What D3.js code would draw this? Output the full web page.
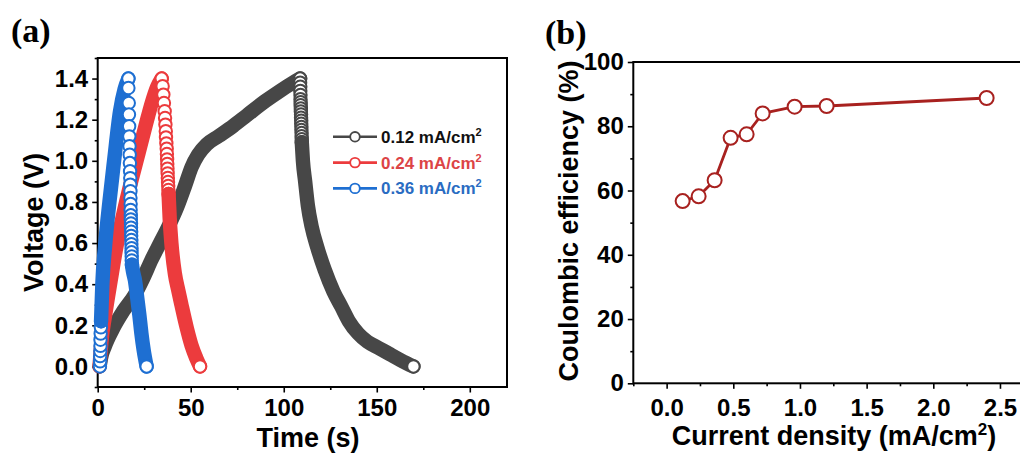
<!DOCTYPE html>
<html>
<head>
<meta charset="utf-8">
<script src="https://cdn.jsdelivr.net/npm/d3@7"></script>
<style>
  body { margin: 0; background: #fff; }
  svg { display: block; }
</style>
</head>
<body>
<svg width="1020" height="454"></svg>
<script>
// ---- (a) charge / discharge curves (t in s, V in volts)
const gcdLabels = ["0.12 mA/cm", "0.24 mA/cm", "0.36 mA/cm"];
const gcdColors = ["#474747", "#ec3b3d", "#1e6fd2"];
const gcdTextColors = ["#111111", "#dc4446", "#2a6cc2"];

// 0.12 mA/cm2
const blackChargeT = [1, 2, 3.9, 8, 13.8, 20, 24.5, 29, 33.5, 38, 42.5, 47, 50.5, 54, 58.6, 65, 72.9, 80, 90, 98, 105, 108.8];
const blackChargeV = [0, 0.05, 0.1, 0.18, 0.27, 0.35, 0.43, 0.52, 0.6, 0.68, 0.77, 0.88, 0.97, 1.03, 1.08, 1.12, 1.17, 1.22, 1.29, 1.34, 1.38, 1.4];
const blackDropT = [108.8, 108.8, 108.9, 108.9, 109, 109, 109.1, 109.1, 109.2, 109.2, 109.3, 109.3, 109.4, 109.4, 109.5, 109.5, 109.6, 109.6, 109.7, 109.7];
const blackDropV = [1.4, 1.38, 1.36, 1.34, 1.32, 1.3, 1.285, 1.27, 1.255, 1.24, 1.225, 1.21, 1.195, 1.18, 1.165, 1.15, 1.135, 1.12, 1.105, 1.09];
const blackDischargeT = [109.7, 110.3, 111.5, 113, 115, 118, 122, 126.7, 131, 135, 140, 145, 151, 157, 163, 169.7];
const blackDischargeV = [1.09, 1.0, 0.9, 0.78, 0.68, 0.58, 0.47, 0.365, 0.29, 0.22, 0.16, 0.12, 0.09, 0.06, 0.03, 0];

// 0.24 mA/cm2
const redChargeT = [1, 2, 4, 7, 10, 14, 18, 22, 26, 29, 32, 34.4];
const redChargeV = [0, 0.12, 0.25, 0.42, 0.58, 0.75, 0.9, 1.04, 1.18, 1.28, 1.36, 1.4];
const redDropT = [34.4, 34.9, 35.3, 35.6, 36.0, 36.2, 36.4, 36.6, 36.7, 36.9, 37.1, 37.2, 37.3, 37.4, 37.5, 37.6, 37.7, 37.8, 37.9, 38.0, 38.1];
const redDropV = [1.4, 1.363, 1.322, 1.281, 1.241, 1.208, 1.176, 1.144, 1.114, 1.085, 1.059, 1.033, 1.007, 0.985, 0.962, 0.939, 0.917, 0.897, 0.878, 0.858, 0.839];
const redDischargeT = [38.1, 38.7, 39.6, 41.5, 43.3, 45, 47.8, 50.5, 53, 55];
const redDischargeV = [0.839, 0.72, 0.6, 0.45, 0.37, 0.3, 0.19, 0.1, 0.04, 0];

// 0.36 mA/cm2
const blueStartT = [1.2, 1.3, 1.3, 1.4, 1.5, 1.5, 1.6, 1.7, 1.8];
const blueStartV = [0, 0.025, 0.05, 0.075, 0.1, 0.13, 0.16, 0.19, 0.22];
const blueChargeT = [1.8, 2.5, 4, 6.3, 8.8, 12, 14.5, 16.5];
const blueChargeV = [0.22, 0.4, 0.59, 0.8, 1.0, 1.24, 1.35, 1.4];
const blueDropT = [16.5, 16.5, 16.7, 16.8, 16.9, 17.0, 17.1, 17.2, 17.3, 17.4, 17.5, 17.5, 17.6, 17.6, 17.7, 17.7, 17.8, 17.8, 17.9, 17.9, 18.0, 18.0, 18.1, 18.1, 18.2, 18.2, 18.3, 18.3, 18.4];
const blueDropV = [1.4, 1.354, 1.281, 1.225, 1.168, 1.119, 1.071, 1.03, 0.989, 0.949, 0.916, 0.884, 0.852, 0.819, 0.79, 0.761, 0.735, 0.715, 0.695, 0.675, 0.655, 0.635, 0.615, 0.595, 0.575, 0.555, 0.535, 0.515, 0.495];
const blueDischargeT = [18.4, 19, 20, 21.3, 22.4, 23.5, 24.7, 26.3];
const blueDischargeV = [0.495, 0.46, 0.42, 0.33, 0.25, 0.16, 0.08, 0];

const timeTicks = [0, 50, 100, 150, 200];
const timeMinor = [25, 75, 125, 175];
const voltTicks = [0, 0.2, 0.4, 0.6, 0.8, 1.0, 1.2, 1.4];
const voltMinor = [-0.1, 0.1, 0.3, 0.5, 0.7, 0.9, 1.1, 1.3, 1.5];

// ---- (b) coulombic efficiency
const currentDensity = [0.12, 0.24, 0.36, 0.48, 0.6, 0.72, 0.96, 1.2, 2.4];
const efficiency = [56.7, 58.2, 63.2, 76.4, 77.5, 84.0, 86.1, 86.3, 88.8];
const cdTicks = [0, 0.5, 1.0, 1.5, 2.0, 2.5];
const cdMinor = [-0.25, 0.25, 0.75, 1.25, 1.75, 2.25];
const ceTicks = [0, 20, 40, 60, 80, 100];
const ceMinor = [10, 30, 50, 70, 90];

const font = "'Liberation Sans', Arial, Helvetica, sans-serif";
const svg = d3.select("svg");

const zip = (ts, vs) => ts.map((t, i) => [t, vs[i]]);

const series = [
    { start: [], charge: zip(blackChargeT, blackChargeV), drop: zip(blackDropT, blackDropV), discharge: zip(blackDischargeT, blackDischargeV) },
    { start: [], charge: zip(redChargeT, redChargeV), drop: zip(redDropT, redDropV), discharge: zip(redDischargeT, redDischargeV) },
    { start: zip(blueStartT, blueStartV), charge: zip(blueChargeT, blueChargeV), drop: zip(blueDropT, blueDropV), discharge: zip(blueDischargeT, blueDischargeV) },
].map((s, i) => ({ ...s, color: gcdColors[i], textColor: gcdTextColors[i], label: gcdLabels[i] }));

// axes + box frame
const frame = (g, x, y, o) => {
    const [x0, x1] = x.range();
    const [y0, y1] = y.range();
    const bottom = (vals, size, fmt, pad) =>
        g.append("g")
            .attr("transform", `translate(0,${y0})`)
            .call(d3.axisBottom(x).tickValues(vals).tickSize(size).tickPadding(pad).tickFormat(fmt));
    const left = (vals, size, fmt, pad) =>
        g.append("g")
            .attr("transform", `translate(${x0},0)`)
            .call(d3.axisLeft(y).tickValues(vals).tickSize(size).tickPadding(pad).tickFormat(fmt));

    bottom(o.xMinor, 3, () => "", 0);
    bottom(o.xMajor, 5.5, o.xFmt, o.xPad);
    left(o.yMinor, 3, () => "", 0);
    left(o.yMajor, 5.5, o.yFmt, o.yPad);

    g.selectAll(".domain").remove();
    g.selectAll(".tick line").attr("stroke", "#000").attr("stroke-width", 1.6);
    g.selectAll(".tick text")
        .attr("fill", "#000")
        .style("font", `bold 24px ${font}`);

    g.append("rect")
        .attr("x", x0)
        .attr("y", y1)
        .attr("width", x1 - x0)
        .attr("height", y0 - y1)
        .attr("fill", "none")
        .attr("stroke", "#000")
        .attr("stroke-width", 2);
};

const title = (g, text, sup, tail, x, y, rotate) => {
    const t = g.append("text")
        .attr("transform", rotate ? `translate(${x},${y}) rotate(-90)` : `translate(${x},${y})`)
        .attr("text-anchor", "middle")
        .style("font", `bold 27px ${font}`)
        .attr("fill", "#000");
    t.append("tspan").text(text);
    if (sup) {
        t.append("tspan").attr("dy", -10).style("font-size", "17px").text(sup);
        t.append("tspan").attr("dy", 10).text(tail);
    }
};

// ================= panel (a)
const xa = d3.scaleLinear().domain([0, 220]).range([97.7, 507]);
const ya = d3.scaleLinear().domain([-0.1, 1.5]).range([387, 58]);
const ga = svg.append("g");

frame(ga, xa, ya, {
    xMajor: timeTicks, xMinor: timeMinor, xFmt: d3.format("d"), xPad: 6,
    yMajor: voltTicks, yMinor: voltMinor, yFmt: d3.format(".1f"), yPad: 4,
});

const r = 6.2;
const sw = 2;
const band = d3.line()
    .x((d) => xa(d[0]))
    .y((d) => ya(d[1]))
    .curve(d3.curveMonotoneX);

const marks = (g, pts, color) =>
    g.append("g")
        .selectAll("circle")
        .data(pts)
        .join("circle")
        .attr("cx", (d) => xa(d[0]))
        .attr("cy", (d) => ya(d[1]))
        .attr("r", r)
        .attr("fill", "#fff")
        .attr("stroke", color)
        .attr("stroke-width", sw);

const path = (g, pts, color) =>
    g.append("path")
        .attr("d", band(pts))
        .attr("fill", "none")
        .attr("stroke", color)
        .attr("stroke-width", 2 * r + sw)
        .attr("stroke-linecap", "round")
        .attr("stroke-linejoin", "round");

series.forEach((s) => {
    const g = ga.append("g");
    marks(g, s.start, s.color);
    path(g, s.charge, s.color);
    marks(g, s.drop, s.color);
    path(g, s.discharge, s.color);
    marks(g, s.discharge.slice(-1), s.color);
});

// legend
const legend = ga.append("g")
    .selectAll("g")
    .data(series)
    .join("g")
    .attr("transform", (d, i) => `translate(333,${136.8 + i * 25.8})`);
legend.append("line")
    .attr("x1", 0).attr("x2", 44)
    .attr("stroke", (d) => d.color)
    .attr("stroke-width", 2.6);
legend.append("circle")
    .attr("cx", 22).attr("r", 4.8)
    .attr("fill", "#fff")
    .attr("stroke", (d) => d.color)
    .attr("stroke-width", 1.8);
const lt = legend.append("text")
    .attr("x", 48).attr("y", 6)
    .style("font", `bold 17px ${font}`)
    .attr("fill", (d) => d.textColor);
lt.append("tspan").text((d) => d.label);
lt.append("tspan").attr("dy", -7).style("font-size", "11px").text("2");

title(ga, "Time (s)", null, null, 308, 447, false);
title(ga, "Voltage (V)", null, null, 43, 222.5, true);

ga.append("text")
    .attr("x", 11).attr("y", 42)
    .style("font", "bold 34px 'Liberation Serif', 'Times New Roman', serif")
    .text("(a)");

// ================= panel (b)
const xb = d3.scaleLinear().domain([-0.25, 2.675]).range([633.3, 1023.3]);
const yb = d3.scaleLinear().domain([0, 100]).range([383.3, 62]);
const gb = svg.append("g");

frame(gb, xb, yb, {
    xMajor: cdTicks, xMinor: cdMinor, xFmt: d3.format(".1f"), xPad: 10,
    yMajor: ceTicks, yMinor: ceMinor, yFmt: d3.format("d"), yPad: 4,
});

const ceData = currentDensity.map((c, i) => [c, efficiency[i]]);
const ceColor = "#a8211f";

gb.append("path")
    .attr("d", d3.line().x((d) => xb(d[0])).y((d) => yb(d[1]))(ceData))
    .attr("fill", "none")
    .attr("stroke", ceColor)
    .attr("stroke-width", 2.8);

gb.append("g")
    .selectAll("circle")
    .data(ceData)
    .join("circle")
    .attr("cx", (d) => xb(d[0]))
    .attr("cy", (d) => yb(d[1]))
    .attr("r", 7)
    .attr("fill", "#fff")
    .attr("stroke", ceColor)
    .attr("stroke-width", 2);

title(gb, "Current density (mA/cm", "2", ")", 834, 445, false);
title(gb, "Coulombic efficiency (%)", null, null, 578, 221, true);

gb.append("text")
    .attr("x", 545).attr("y", 44)
    .style("font", "bold 34px 'Liberation Serif', 'Times New Roman', serif")
    .text("(b)");
</script>
</body>
</html>
